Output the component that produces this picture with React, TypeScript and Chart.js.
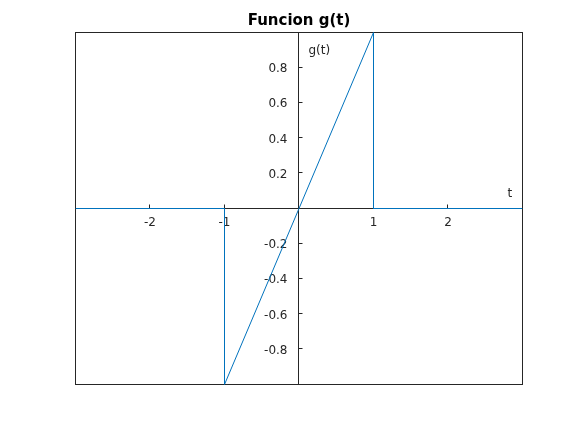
import React, { useEffect, useRef } from "react";
import { Chart, registerables } from "chart.js";

Chart.register(...registerables);

const tValues = [-3, -1, -1, -1, 1, 1, 3];
const gValues = [0, 0, -0.5, -1, 1, 0, 0];
const xTicks = [-2, -1, 1, 2];
const xTickLabels = ["-2", "-1", "1", "2"];
const yTicks = [-0.8, -0.6, -0.4, -0.2, 0.2, 0.4, 0.6, 0.8];
const yTickLabels = ["-0.8", "-0.6", "-0.4", "-0.2", "0.2", "0.4", "0.6", "0.8"];
const titleText = "Funcion g(t)";
const xAxisName = "t";
const yAxisName = "g(t)";

const AXIS_COLOR = "#262626";
const LINE_COLOR = "#0072BD";
const FONT = "12px 'DejaVu Sans'";

const crisp = (v: number) => Math.floor(v - 0.5) + 0.5;

const axesPlugin = {
  id: "centerAxes",
  beforeDatasetsDraw(chart: any) {
    const { ctx, chartArea, scales } = chart;
    const xs = scales.x;
    const ys = scales.y;
    const x0 = crisp(xs.getPixelForValue(0));
    const y0 = crisp(ys.getPixelForValue(0));
    ctx.save();
    ctx.strokeStyle = AXIS_COLOR;
    ctx.lineWidth = 1;
    const l = crisp(chartArea.left);
    const t = crisp(chartArea.top);
    const r = crisp(chartArea.right);
    const b = crisp(chartArea.bottom);
    ctx.strokeRect(l, t, r - l, b - t);
    ctx.beginPath();
    ctx.moveTo(l, y0);
    ctx.lineTo(r, y0);
    ctx.moveTo(x0, t);
    ctx.lineTo(x0, b);
    xTicks.forEach((v) => {
      const px = crisp(xs.getPixelForValue(v));
      ctx.moveTo(px, y0);
      ctx.lineTo(px, y0 - 4);
    });
    yTicks.forEach((v) => {
      const py = crisp(ys.getPixelForValue(v));
      ctx.moveTo(x0, py);
      ctx.lineTo(x0 + 4, py);
    });
    ctx.stroke();

    ctx.fillStyle = AXIS_COLOR;
    ctx.font = FONT;
    ctx.textBaseline = "alphabetic";
    ctx.textAlign = "center";
    xTicks.forEach((v, i) => {
      ctx.fillText(xTickLabels[i], xs.getPixelForValue(v), y0 + 17);
    });
    ctx.textAlign = "right";
    yTicks.forEach((v, i) => {
      ctx.fillText(yTickLabels[i], x0 - 11, ys.getPixelForValue(v) + 4.5);
    });
    ctx.textAlign = "left";
    ctx.fillText(yAxisName, x0 + 10, t + 21);
    ctx.fillText(xAxisName, r - 15, y0 - 12);
    ctx.restore();
  },
};

export default function App() {
  const ref = useRef<HTMLCanvasElement>(null);
  useEffect(() => {
    document.body.style.margin = "0";
    const canvas = ref.current;
    if (!canvas) return;
    const chart = new Chart(canvas, {
      type: "scatter",
      data: {
        datasets: [
          {
            data: tValues.map((tv, i) => ({ x: tv, y: gValues[i] })),
            showLine: true,
            borderColor: LINE_COLOR,
            backgroundColor: LINE_COLOR,
            borderWidth: 1,
            pointRadius: 0,
            tension: 0,
          },
        ],
      },
      options: {
        animation: false,
        responsive: false,
        maintainAspectRatio: false,
        layout: { padding: { left: 75.5, right: 54.5, top: 0, bottom: 48.5 } },
        scales: {
          x: { type: "linear", min: -3, max: 3, display: false },
          y: { type: "linear", min: -1, max: 1, display: false },
        },
        plugins: {
          legend: { display: false },
          tooltip: { enabled: false },
          title: {
            display: true,
            text: titleText,
            color: "#000000",
            font: { family: "'DejaVu Sans'", size: 15, weight: "bold", lineHeight: 1 },
            padding: { top: 14, bottom: 3.5 },
          },
        },
      },
      plugins: [axesPlugin],
    });
    return () => chart.destroy();
  }, []);
  return (
    <div style={{ width: 577, height: 433 }}>
      <canvas ref={ref} width={577} height={433} style={{ display: "block" }} />
    </div>
  );
}
